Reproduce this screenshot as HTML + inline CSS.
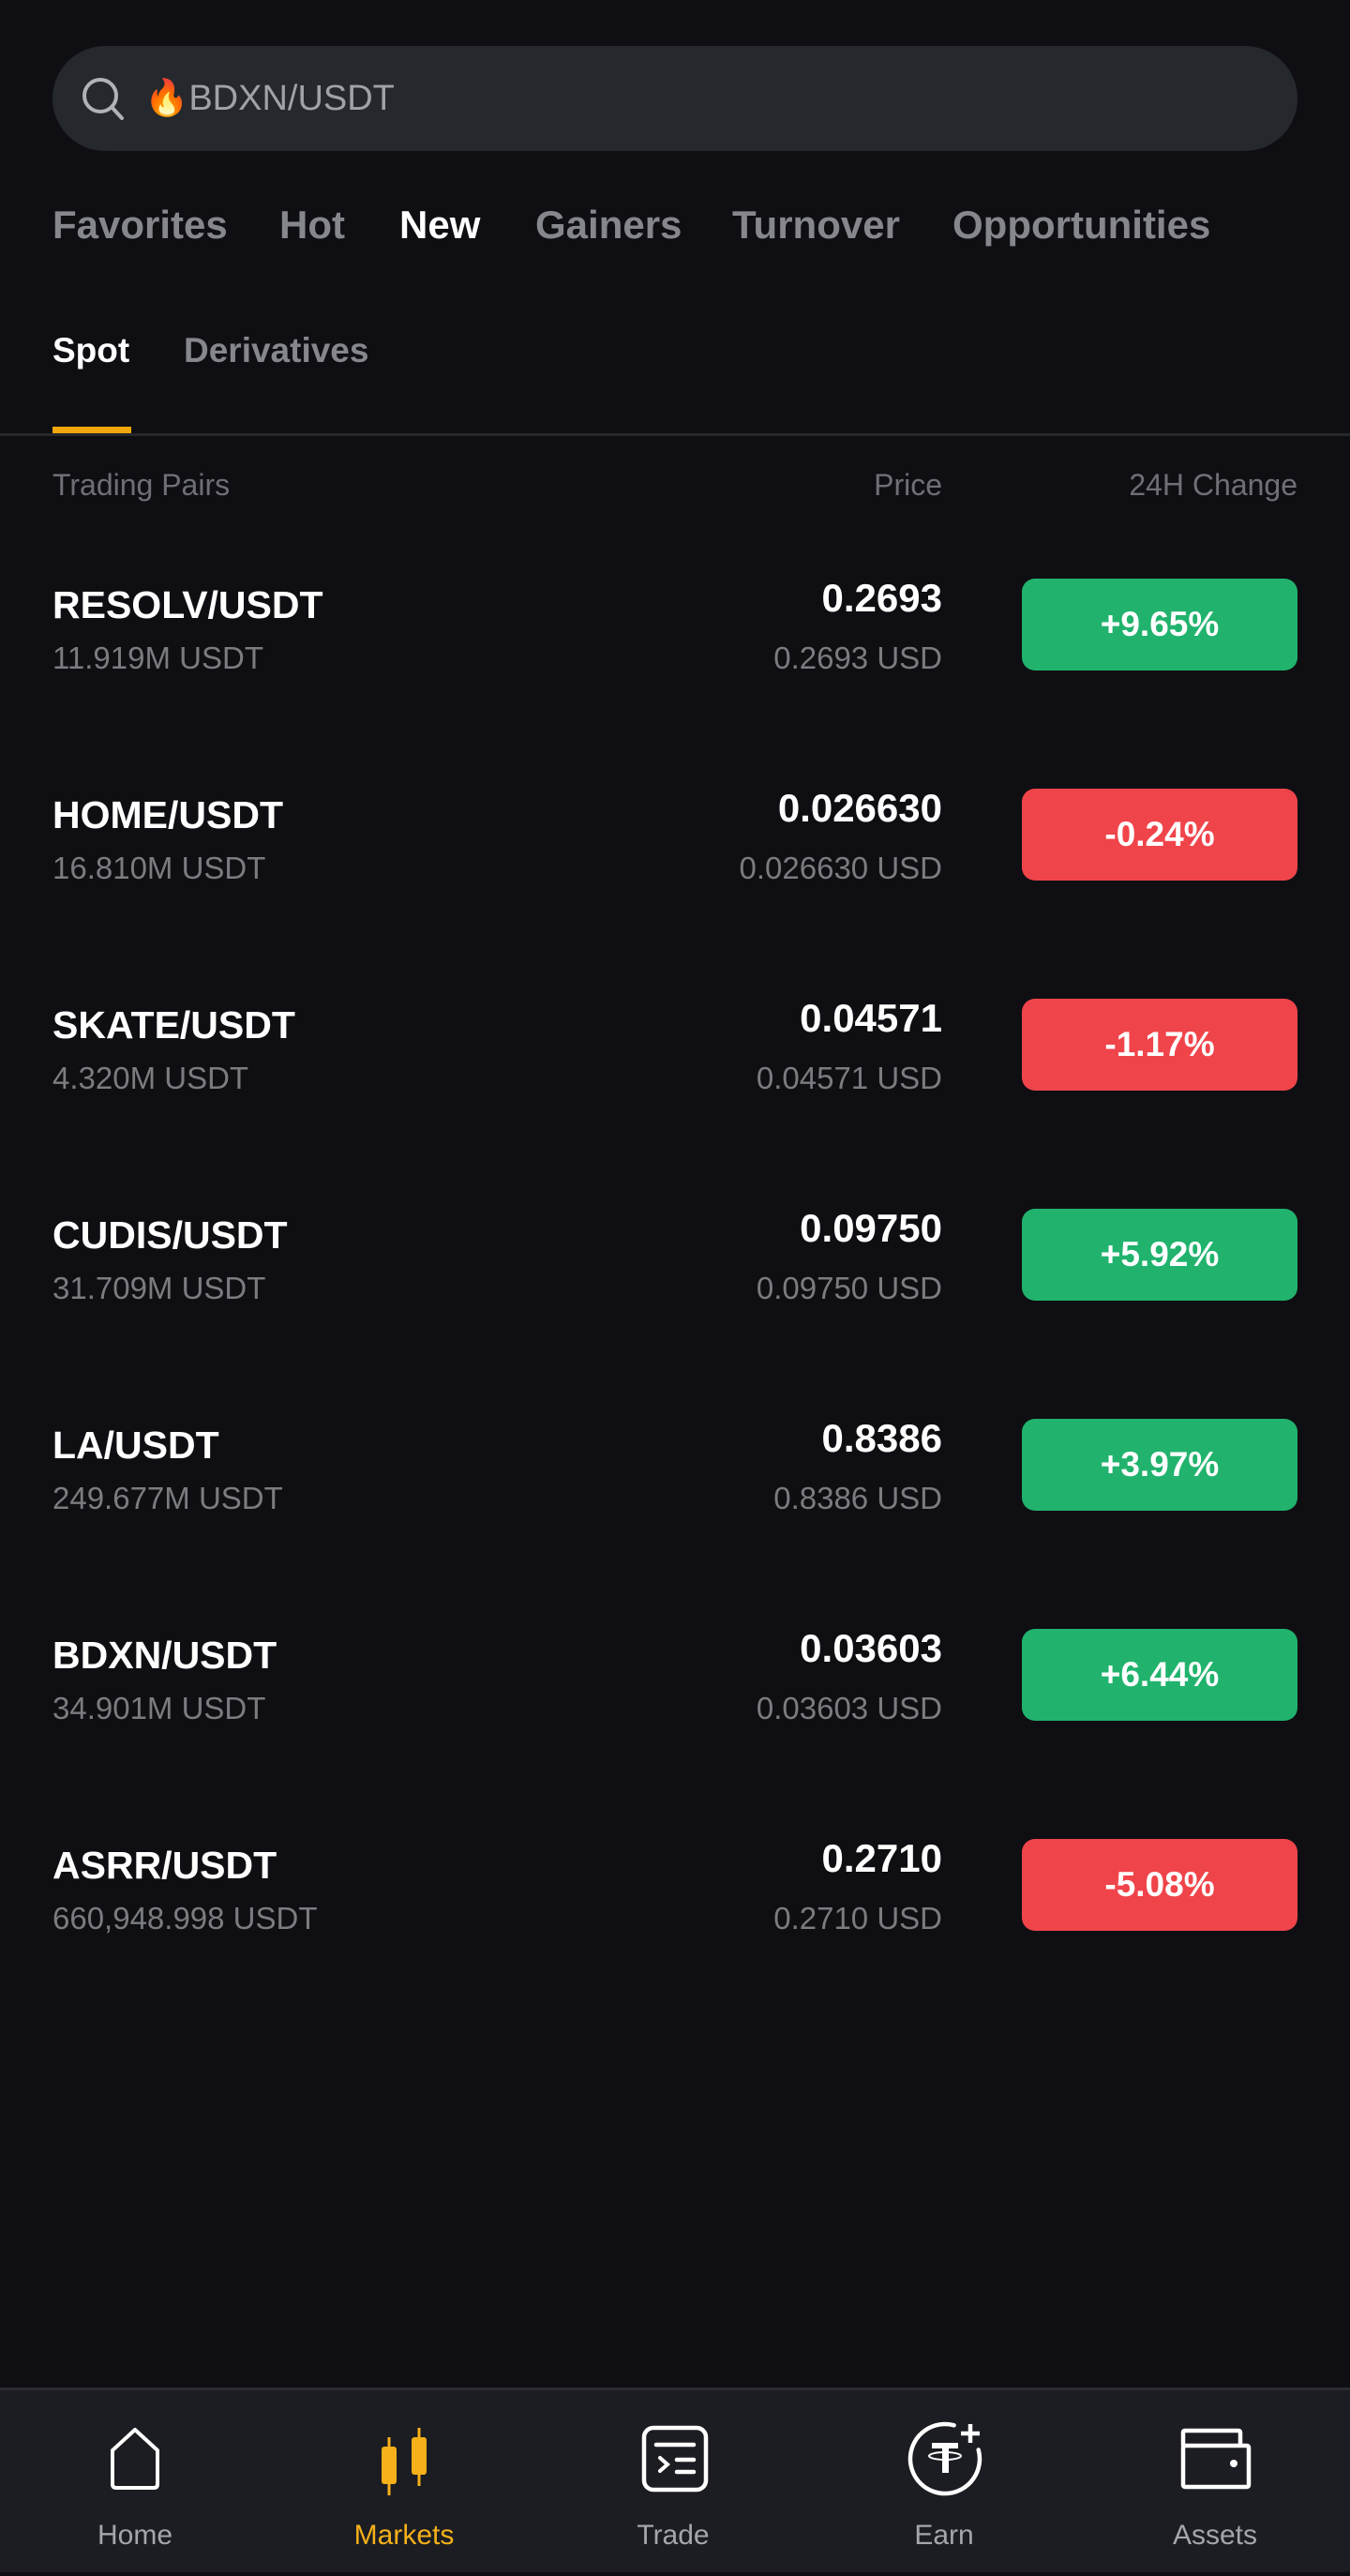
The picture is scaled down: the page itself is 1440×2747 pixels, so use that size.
<!DOCTYPE html>
<html><head><meta charset="utf-8">
<style>
*{margin:0;padding:0;box-sizing:border-box}
body{width:1440px;height:2747px;background:#0f0f13;font-family:"Liberation Sans",sans-serif;position:relative;overflow:hidden;color:#fff}
.a{position:absolute;white-space:nowrap}
.tab{top:212px;font-size:42px;font-weight:bold;color:#85878c;line-height:56px}
.sub{top:346px;font-size:37px;font-weight:bold;color:#85878c;line-height:56px}
.hdr{top:499px;font-size:32px;color:#6e7075;line-height:36px}
.name{font-size:41px;font-weight:bold;line-height:50px;left:56px}
.vol{font-size:33px;color:#7a7c80;line-height:40px;left:56px}
.price{font-size:42px;font-weight:bold;line-height:52px;right:435px;text-align:right}
.usd{font-size:33px;color:#7a7c80;line-height:40px;right:435px;text-align:right}
.badge{left:1090px;width:294px;height:98px;border-radius:14px;font-size:37px;font-weight:bold;display:flex;align-items:center;justify-content:center}
.nav{top:2546px;left:0;width:1440px;height:197px;background:#1c1d22;border-top:3px solid #2a2b30}
.ni{position:absolute;top:0;width:200px;height:197px}
.ni svg{position:absolute;left:70px;top:38px;overflow:visible}
.ni span{position:absolute;top:138px;width:200px;text-align:center;font-size:30px;color:#a4a6ab}
</style></head><body>
<div class="a" style="left:56px;top:49px;width:1328px;height:112px;border-radius:56px;background:#25282d">
  <svg class="a" style="left:30px;top:32px" width="50" height="50" viewBox="0 0 50 50"><circle cx="21" cy="21" r="17" fill="none" stroke="#b0b2b6" stroke-width="4"/><line x1="33" y1="33" x2="44" y2="45" stroke="#b0b2b6" stroke-width="4" stroke-linecap="round"/></svg>
  <div class="a" style="left:98px;top:30px;font-size:38px;line-height:52px;color:#a0a2a6">🔥BDXN/USDT</div>
</div>
<div class="a tab" style="left:56px">Favorites</div>
<div class="a tab" style="left:298px">Hot</div>
<div class="a tab" style="left:426px;color:#fff">New</div>
<div class="a tab" style="left:571px">Gainers</div>
<div class="a tab" style="left:781px">Turnover</div>
<div class="a tab" style="left:1016px">Opportunities</div>
<div class="a sub" style="left:56px;color:#fff">Spot</div>
<div class="a sub" style="left:196px">Derivatives</div>
<div class="a" style="left:56px;top:455px;width:84px;height:7px;background:#f0a70a"></div>
<div class="a" style="left:0;top:462px;width:1440px;height:3px;background:#26282c"></div>
<div class="a hdr" style="left:56px">Trading Pairs</div>
<div class="a hdr" style="right:435px">Price</div>
<div class="a hdr" style="right:56px">24H Change</div>
<div id="rows"></div>
<div class="a nav">
  <div class="ni" style="left:44px">
    <svg width="60" height="70" viewBox="0 0 60 70"><path d="M30 4 L54 26 V62 Q54 66 50 66 H10 Q6 66 6 62 V26 Z" fill="none" stroke="#fff" stroke-width="4" stroke-linejoin="round"/></svg><span>Home</span></div>
  <div class="ni" style="left:331px">
    <svg width="60" height="76" viewBox="0 0 60 76"><line x1="14" y1="12" x2="14" y2="74" stroke="#f5b01a" stroke-width="3"/><rect x="6" y="22" width="16" height="40" rx="3" fill="#f5b01a"/><line x1="46" y1="2" x2="46" y2="64" stroke="#f5b01a" stroke-width="3"/><rect x="38" y="12" width="16" height="40" rx="3" fill="#f5b01a"/></svg><span style="color:#f5b01a">Markets</span></div>
  <div class="ni" style="left:618px">
    <svg style="left:64px;top:38px" width="76" height="72" viewBox="0 0 76 72"><rect x="5" y="2" width="66" height="66" rx="10" fill="none" stroke="#fff" stroke-width="4.5"/><line x1="18" y1="20" x2="58" y2="20" stroke="#fff" stroke-width="4.5" stroke-linecap="round"/><path d="M22 34 L30 41 L22 48" fill="none" stroke="#fff" stroke-width="4" stroke-linecap="round"/><line x1="40" y1="36" x2="58" y2="36" stroke="#fff" stroke-width="4.5" stroke-linecap="round"/><line x1="40" y1="49" x2="58" y2="49" stroke="#fff" stroke-width="4.5" stroke-linecap="round"/></svg><span>Trade</span></div>
  <div class="ni" style="left:907px">
    <svg width="80" height="80" viewBox="0 0 80 80"><path d="M66.7 25.4 A37 37 0 1 1 40.6 -0.7" fill="none" stroke="#fff" stroke-width="4.5" stroke-linecap="round"/><line x1="58" y1="-2" x2="58" y2="18" stroke="#fff" stroke-width="4.5"/><line x1="48" y1="8" x2="68" y2="8" stroke="#fff" stroke-width="4.5"/><rect x="17" y="18" width="28" height="6" fill="#fff"/><rect x="28" y="22" width="7" height="28" fill="#fff"/><ellipse cx="31" cy="32" rx="17" ry="4" fill="none" stroke="#fff" stroke-width="2"/></svg><span>Earn</span></div>
  <div class="ni" style="left:1196px">
    <svg style="left:60px;top:38px" width="80" height="70" viewBox="0 0 80 70"><path d="M6 21 V7 Q6 5 8 5 H65 Q67 5 67 7 V21" fill="none" stroke="#fff" stroke-width="4.5"/><rect x="6" y="21" width="70" height="44" rx="2" fill="none" stroke="#fff" stroke-width="4.5"/><circle cx="60" cy="40" r="4" fill="#fff"/></svg><span>Assets</span></div>
</div>
<script>
const pairs=["RESOLV/USDT","HOME/USDT","SKATE/USDT","CUDIS/USDT","LA/USDT","BDXN/USDT","ASRR/USDT"];
const volumes=["11.919M USDT","16.810M USDT","4.320M USDT","31.709M USDT","249.677M USDT","34.901M USDT","660,948.998 USDT"];
const prices=["0.2693","0.026630","0.04571","0.09750","0.8386","0.03603","0.2710"];
const changes=[9.65,-0.24,-1.17,5.92,3.97,6.44,-5.08];
const root=document.getElementById('rows');
pairs.forEach((p,i)=>{
  const y=617+i*224;
  const row=document.createElement('div');
  
  
  const mk=(cls,txt,top,nm,inter)=>{const d=document.createElement('div');d.className='a '+cls;d.textContent=txt;d.style.top=top+'px';
    
    
    row.appendChild(d);return d;};
  mk('name',p,y+3,'pair-name','false');
  mk('vol',volumes[i],y+65,'pair-volume','false');
  mk('price',prices[i],y-5,'pair-price','false');
  mk('usd',prices[i]+' USD',y+65,'pair-price-usd','false');
  const c=changes[i];
  const b=mk('badge',(c>=0?'+':'')+c.toFixed(2)+'%',y,'change-badge','true');
  b.style.background=c>=0?'#21b36d':'#f0444b';
  root.appendChild(row);
});
</script>
</body></html>
